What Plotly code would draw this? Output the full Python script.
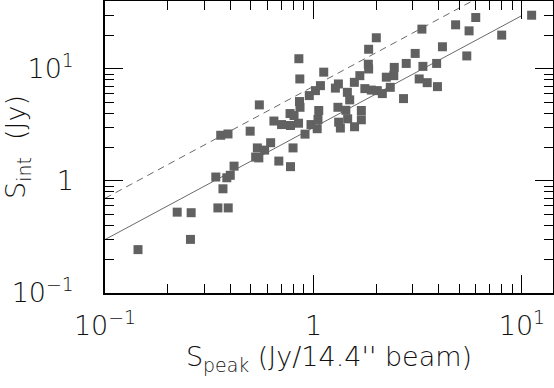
import plotly.graph_objects as go

# Data (S_peak [Jy/beam], S_int [Jy])
s_peak = [0.144, 0.222, 0.259, 0.257, 0.340, 0.384, 0.399, 0.368, 0.348, 0.390,
          0.416, 0.359, 0.389, 0.497, 0.550, 0.528, 0.547, 0.538, 0.583, 0.623,
          0.682, 0.776, 0.798, 0.646, 0.703, 0.776, 0.848, 0.772, 0.807, 0.857,
          0.862, 0.955, 0.911, 0.851, 0.860, 1.12, 0.973, 1.022, 1.08, 1.06,
          1.051, 1.042, 1.31, 1.43, 1.459, 1.321, 1.346, 1.697, 1.697, 1.574,
          1.317, 1.274, 1.454, 1.492, 1.571, 1.669, 1.764, 1.895, 2.024, 2.14,
          2.336, 2.236, 2.428, 2.441, 1.833, 1.839, 1.839, 2.002, 2.786, 2.704,
          3.076, 3.312, 3.349, 3.898, 4.156, 3.215, 3.512, 3.933, 4.807, 5.577,
          6.004, 5.438, 7.997, 11.13]
s_int = [0.244, 0.527, 0.521, 0.301, 1.085, 1.068, 1.124, 0.852, 0.575, 0.575,
         1.357, 2.56, 2.63, 2.785, 4.78, 1.635, 1.608, 1.974, 1.887, 2.196,
         1.506, 1.343, 1.974, 3.43, 3.19, 3.13, 3.28, 4.00, 3.84, 5.12,
         4.55, 5.79, 2.62, 12.35, 8.15, 9.37, 3.19, 6.41, 7.10, 4.26,
         3.54, 2.93, 4.55, 4.28, 3.59, 3.35, 2.97, 4.26, 3.52, 3.05,
         7.35, 6.75, 6.19, 5.30, 7.60, 8.72, 6.68, 6.48, 6.41, 6.03,
         6.86, 8.45, 8.72, 10.33, 11.03, 10.0, 15.0, 19.0, 11.21, 5.44,
         13.77, 22.69, 10.55, 11.21, 15.79, 8.15, 7.55, 6.96, 24.8, 21.9,
         28.8, 13.08, 20.07, 30.2]

# Reference relations S_int = k * S_peak
line_x = [0.1, 10.0]
k_solid = 3.0
k_dashed = 7.0

x_tickvals = [0.1, 1, 10]
x_ticktext = ["10<sup>\u22121</sup>", "1", "10<sup>1</sup>"]
y_tickvals = [0.1, 1, 10]
y_ticktext = ["10<sup>\u22121</sup>", "1", "10<sup>1</sup>"]
minor_vals = [m * d for d in (0.1, 1, 10) for m in range(2, 10)]

FONT = dict(family="DejaVu Sans", size=27, color="#111111", weight=200)

fig = go.Figure()
fig.add_trace(go.Scatter(x=line_x, y=[k_dashed * v for v in line_x], mode="lines",
                         line=dict(color="#6a6a6a", width=1, dash="7px,5px"),
                         showlegend=False, hoverinfo="skip"))
fig.add_trace(go.Scatter(x=line_x, y=[k_solid * v for v in line_x], mode="lines",
                         line=dict(color="#6a6a6a", width=1),
                         showlegend=False, hoverinfo="skip"))
fig.add_trace(go.Scatter(x=s_peak, y=s_int, mode="markers",
                         marker=dict(symbol="square", size=9, color="#616161",
                                     line=dict(width=0)),
                         showlegend=False, cliponaxis=False))

axis_common = dict(type="log", showgrid=False, zeroline=False, automargin=False,
                   showline=True, linecolor="black", linewidth=1.5,
                   mirror="allticks", ticks="inside", tickcolor="black",
                   tickwidth=1, ticklen=18, tickfont=FONT,
                   minor=dict(ticks="inside", ticklen=9, tickcolor="black",
                              tickwidth=1, tickvals=minor_vals, showgrid=False))

fig.update_xaxes(**axis_common, range=[-1.0, 1.149],
                 tickvals=x_tickvals, ticktext=x_ticktext,
                 ticklabelstandoff=8,
                 title=dict(text="S<sub>peak</sub> (Jy/14.4'' beam)", font=FONT,
                            standoff=2))
fig.update_yaxes(**axis_common, range=[-1.0, 1.607],
                 tickvals=y_tickvals, ticktext=y_ticktext,
                 ticklabelstandoff=24,
                 title=dict(text="S<sub>int</sub>  (Jy)", font=FONT, standoff=6))

fig.update_layout(width=554, height=388, autosize=False,
                  margin=dict(l=105, r=1, t=1, b=95),
                  plot_bgcolor="white", paper_bgcolor="white",
                  font=FONT)

fig.write_html("out.html", config={"displayModeBar": False},
               post_script="document.body.style.margin='0';")
